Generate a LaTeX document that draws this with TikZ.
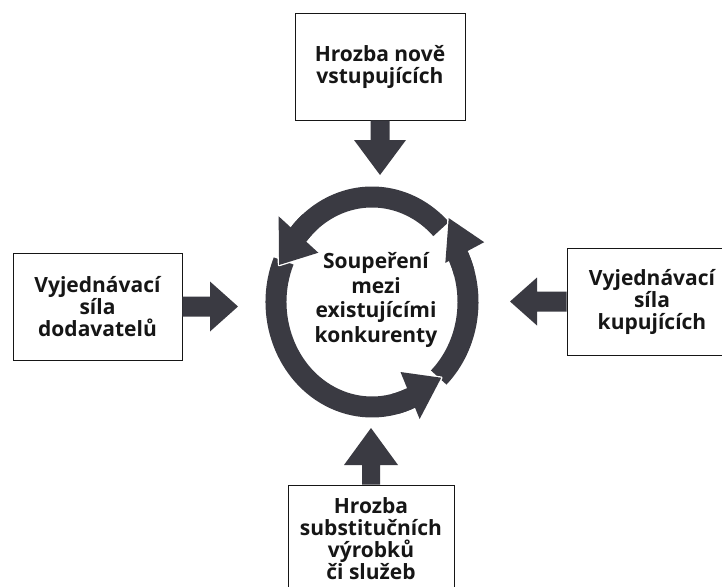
\documentclass[tikz,border=0pt]{standalone}
\usepackage{fontspec}
\setmainfont{Open Sans}
\usetikzlibrary{calc}
\definecolor{ink}{RGB}{58,58,66}
\definecolor{txt}{RGB}{22,22,22}
\tikzset{
  box/.style={draw=txt, line width=0.9pt, minimum width=170pt, minimum height=107pt,
    inner sep=0pt, align=center, text=txt, font=\fontsize{21}{22}\selectfont\bfseries},
  coretext/.style={align=center, text=txt, font=\fontsize{21}{24.5}\selectfont\bfseries},
  ring/.style={draw=ink, line width=21pt},
  headcut/.style={draw=white, line width=2.6pt, line join=round},
  headfill/.style={fill=ink}
}
\newcommand\blkarrow[5]{%
  \path ($(#2)!#5pt!(#1)$) coordinate (hb);
  \fill[ink] ($(#1)!#3pt!90:(#2)$) -- ($(hb)!#3pt!90:(#2)$) -- ($(hb)!#4pt!90:(#2)$) -- (#2)
    -- ($(hb)!#4pt!-90:(#2)$) -- ($(hb)!#3pt!-90:(#2)$) -- ($(#1)!#3pt!-90:(#2)$) -- cycle;}
\begin{document}
\begin{tikzpicture}[x=1pt,y=1pt]
\useasboundingbox (0,0) rectangle (722,-586);
\clip (0,0) rectangle (722,-586);
% boxes
\node[box] (top) at (380,-66.5) {Hrozba nově\\vstupujících};
\node[box, minimum width=169pt] (left) at (97.5,-306.5) {Vyjednávací\\síla\\dodavatelů};
\node[box] (right) at (652,-301.5) {Vyjednávací\\síla\\kupujících};
\node[box, minimum width=166pt] (bottom) at (371,-538.5) {Hrozba\\substitučních\\výrobků\\či služeb};
% centre
\coordinate (C) at (372,-302);
\node[coretext] (core) at (376,-300) {Soupeření\\mezi\\existujícími\\konkurenty};
% block arrows
\coordinate (topTip) at (380,-175);
\coordinate (leftTip) at (238,-306.5);
\coordinate (rightTip) at (510,-301.5);
\coordinate (bottomTip) at (371,-428);
\blkarrow{top.south}{topTip}{9.5}{26}{35}
\blkarrow{left.east}{leftTip}{10}{25}{28}
\blkarrow{right.west}{rightTip}{10}{24}{27}
\blkarrow{bottom.north}{bottomTip}{9}{27}{37}
% ring arcs
\draw[ring] ($(C)+(-46:96pt and 105pt)$) arc[start angle=-46,end angle=27,x radius=96pt,y radius=105pt];
\draw[ring] ($(C)+(44:96pt and 105pt)$) arc[start angle=44,end angle=141,x radius=96pt,y radius=105pt];
\draw[ring] ($(C)+(157:96pt and 105pt)$) arc[start angle=157,end angle=295,x radius=96pt,y radius=105pt];
% heads
\path ($(C)+(140:121.9pt and 133.35pt)$) coordinate (h1a)
      ($(C)+(140:70.1pt and 76.65pt)$) coordinate (h1b)
      ($(C)+(160:98.9pt and 108.2pt)$) coordinate (h1t)
      ($(C)+(26:81.6pt and 89.25pt)$) coordinate (h2a)
      ($(C)+(26:124.8pt and 136.5pt)$) coordinate (h2b)
      ($(C)+(45:108.5pt and 118.65pt)$) coordinate (h2t)
      ($(C)+(-66:70.1pt and 76.65pt)$) coordinate (h3a)
      ($(C)+(-66:117.1pt and 128.1pt)$) coordinate (h3b)
      ($(C)+(-45:97.9pt and 107.1pt)$) coordinate (h3t);
\draw[headcut] (h1a) -- (h1b) -- (h1t) -- cycle;
\draw[headcut] (h2a) -- (h2b) -- (h2t) -- cycle;
\draw[headcut] (h3a) -- (h3b) -- (h3t) -- cycle;
\draw[ring] ($(C)+(16:96pt and 105pt)$) arc[start angle=16,end angle=27,x radius=96pt,y radius=105pt];
\draw[ring] ($(C)+(130:96pt and 105pt)$) arc[start angle=130,end angle=141,x radius=96pt,y radius=105pt];
\draw[ring] ($(C)+(284:96pt and 105pt)$) arc[start angle=284,end angle=295,x radius=96pt,y radius=105pt];
\fill[headfill] (h1a) -- (h1b) -- (h1t) -- cycle;
\fill[headfill] (h2a) -- (h2b) -- (h2t) -- cycle;
\fill[headfill] (h3a) -- (h3b) -- (h3t) -- cycle;
\end{tikzpicture}
\end{document}
